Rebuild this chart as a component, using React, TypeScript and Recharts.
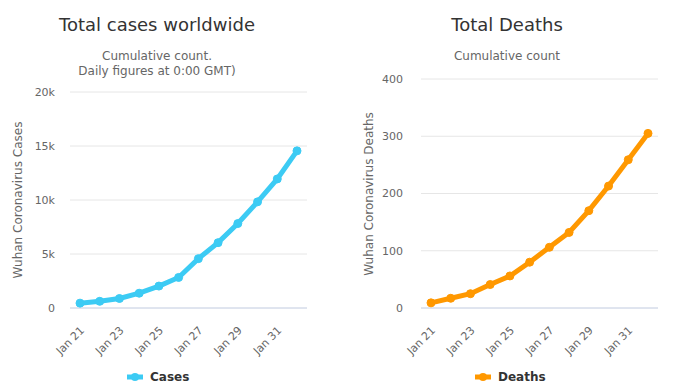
import { CartesianGrid, Line, LineChart, XAxis, YAxis } from 'recharts';

const days = ['Jan 21', 'Jan 22', 'Jan 23', 'Jan 24', 'Jan 25', 'Jan 26', 'Jan 27', 'Jan 28', 'Jan 29', 'Jan 30', 'Jan 31', 'Feb 1'];
const cases = [450, 620, 880, 1370, 2030, 2830, 4570, 6050, 7820, 9830, 11950, 14550];
const deaths = [9, 17, 25, 41, 56, 80, 106, 132, 170, 213, 259, 305];
const caseTicks = [0, 5000, 10000, 15000, 20000];
const deathTicks = [0, 100, 200, 300, 400];

const font = '"DejaVu Sans", Verdana, sans-serif';
const cyan = '#3ccbf4';
const orange = '#ff9800';

const caseData = days.map((day, i) => ({ day, value: cases[i] }));
const deathData = days.map((day, i) => ({ day, value: deaths[i] }));

function DayTick({ x, y, payload }: any) {
  return (
    <g transform={`translate(${x + 5},${y + 15})`}>
      <text x={0} y={0} textAnchor="end" transform="rotate(-45)" fill="#666" fontSize={11}>
        {payload.value}
      </text>
    </g>
  );
}

interface PanelProps {
  data: { day: string; value: number }[];
  ticks: number[];
  title: string;
  subtitle: string[];
  axisTitle: string;
  name: string;
  color: string;
  yWidth: number;
  top: number;
  right: number;
  titleX: number;
  axisTitleX: number;
  fmt: (v: number) => string;
}

function Panel({ data, ticks, title, subtitle, axisTitle, name, color, yWidth, top, right, titleX, axisTitleX, fmt }: PanelProps) {
  const plotMid = (top + 308) / 2;
  return (
    <div style={{ position: 'relative', width: 348, height: 390 }}>
      <LineChart width={348} height={390} data={data} margin={{ top, right, bottom: 32, left: 0 }}>
        <CartesianGrid stroke="#e6e6e6" vertical={false} />
        <XAxis
          dataKey="day"
          height={50}
          interval={1}
          tick={<DayTick />}
          tickLine={false}
          axisLine={{ stroke: '#ccd6eb' }}
          padding={{ left: 10, right: 10 }}
        />
        <YAxis
          width={yWidth}
          domain={[ticks[0], ticks[ticks.length - 1]]}
          ticks={ticks}
          tickFormatter={fmt}
          tickLine={false}
          axisLine={false}
          tickSize={0}
          tickMargin={yWidth - 55}
          tick={{ fill: '#666', fontSize: 11 }}
        />
        <Line
          dataKey="value"
          name={name}
          stroke={color}
          strokeWidth={5}
          dot={{ r: 4, fill: color, stroke: color, strokeWidth: 1 }}
          isAnimationActive={false}
        />
      </LineChart>
      <div style={{ position: 'absolute', left: 0, top: 0, width: 348, height: 390, pointerEvents: 'none' }}>
        <div style={{ position: 'absolute', left: titleX - 150, width: 300, top: 14, textAlign: 'center', fontSize: 18, color: '#333' }}>{title}</div>
        {subtitle.map((line, i) => (
          <div key={line} style={{ position: 'absolute', left: titleX - 150, width: 300, top: 49 + i * 15, textAlign: 'center', fontSize: 12, color: '#666' }}>
            {line}
          </div>
        ))}
        <div
          style={{
            position: 'absolute',
            left: axisTitleX - 150,
            top: plotMid - 8,
            width: 300,
            height: 16,
            lineHeight: '16px',
            textAlign: 'center',
            fontSize: 12,
            color: '#666',
            transform: 'rotate(-90deg)',
          }}
        >
          {axisTitle}
        </div>
        <div style={{ position: 'absolute', left: 127, top: 370, display: 'flex', alignItems: 'center' }}>
          <svg width={16} height={12}>
            <line x1={0} y1={6} x2={16} y2={6} stroke={color} strokeWidth={5} />
            <circle cx={8} cy={6} r={4} fill={color} />
          </svg>
          <span style={{ marginLeft: 7, fontSize: 12, fontWeight: 'bold', color: '#333' }}>{name}</span>
        </div>
      </div>
    </div>
  );
}

export default function App() {
  return (
    <div style={{ position: 'absolute', left: 0, top: 0, width: 696, height: 390, display: 'flex', fontFamily: font, background: '#fff' }}>
      <Panel
        data={caseData}
        ticks={caseTicks}
        title="Total cases worldwide"
        subtitle={['Cumulative count.', 'Daily figures at 0:00 GMT)']}
        axisTitle="Wuhan Coronavirus Cases"
        name="Cases"
        color={cyan}
        yWidth={70}
        top={92}
        right={41}
        titleX={157}
        axisTitleX={18}
        fmt={(v) => (v === 0 ? '0' : `${v / 1000}k`)}
      />
      <Panel
        data={deathData}
        ticks={deathTicks}
        title="Total Deaths"
        subtitle={['Cumulative count']}
        axisTitle="Wuhan Coronavirus Deaths"
        name="Deaths"
        color={orange}
        yWidth={73}
        top={79}
        right={38}
        titleX={159}
        axisTitleX={21}
        fmt={(v) => String(v)}
      />
    </div>
  );
}
